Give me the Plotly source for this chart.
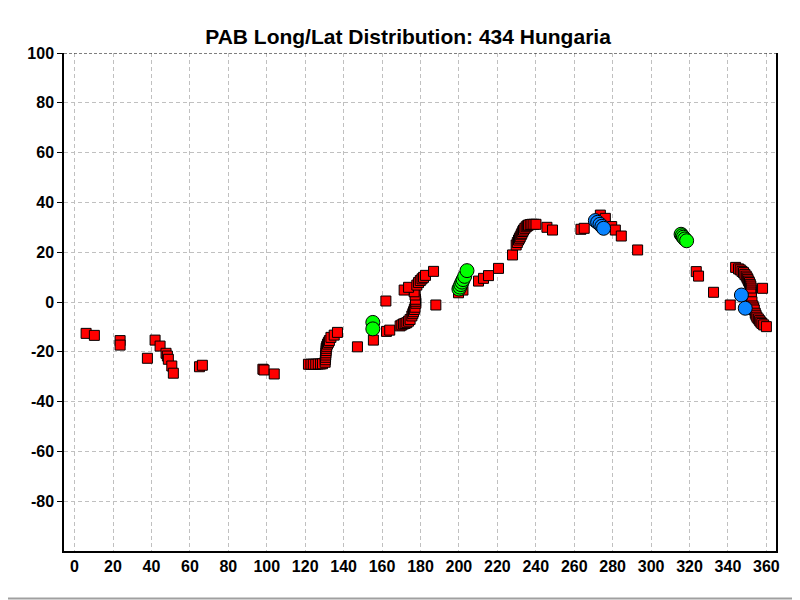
import plotly.graph_objects as go

# ── Datos (longitud, latitud) ──────────────────────────────────────────────

red_lon = [
    6.0, 10.3, 23.7, 23.7, 37.9, 41.9, 44.5, 47.6, 48.3, 48.8, 50.6, 51.4,
    65.0, 66.5, 98.0, 98.6, 103.9,
    121.7, 123.0, 124.2, 125.5, 126.8, 128.0, 129.0,
    130.4, 130.5, 130.6, 130.7, 130.8, 130.9, 130.9, 131.2, 131.6, 132.1,
    132.6, 133.4, 135.1, 136.8,
    147.2, 155.5, 162.0, 162.3, 164.0,
    169.4, 170.3, 171.2, 172.0, 172.9, 173.8, 174.6, 175.5, 176.0, 176.4,
    176.8, 177.2, 177.6, 177.5, 177.4, 177.2, 176.7,
    171.5, 173.8,
    178.1, 179.0, 179.9, 180.8, 181.6, 182.6, 186.8, 188.0,
    199.8, 202.1,
    210.2, 212.8, 215.4, 220.6, 227.9,
    229.8, 230.4, 231.0, 231.5, 231.9, 232.4, 232.8, 233.2, 233.6, 234.3,
    235.0, 235.6, 236.2, 237.1, 238.0, 239.0, 240.1, 245.8, 248.7,
    263.5, 265.2, 273.6, 276.2, 279.5, 281.4, 284.5, 293.0,
    323.5, 324.7, 332.5, 341.2, 344.0,
    345.5, 346.4, 347.3, 348.1, 348.8, 349.5, 350.0, 350.4, 350.8, 351.2,
    351.6, 351.9, 352.1, 352.1, 352.0, 351.9,
    352.2, 352.5, 353.0, 353.4, 353.7, 354.2, 354.6, 355.1, 355.8, 356.5,
    357.1, 357.7, 358.6, 360.0, 358.0,
]
red_lat = [
    -12.6, -13.4, -15.5, -17.3, -22.6, -15.3, -17.7, -20.6, -21.7, -23.0, -25.7, -28.6,
    -26.0, -25.4, -27.0, -27.3, -28.9,
    -25.0, -25.0, -25.0, -25.0, -24.9, -24.9, -24.8,
    -24.2, -23.2, -22.2, -21.3, -20.4, -19.5, -18.6, -17.8, -16.9, -16.2,
    -15.5, -14.2, -13.3, -12.2,
    -18.0, -15.3, 0.4, -11.8, -11.3,
    -9.6, -9.2, -8.8, -8.6, -8.3, -7.7, -7.0, -5.6, -4.7, -3.9,
    -3.0, -2.1, -0.5, 0.3, 1.1, 2.8, 4.1,
    4.8, 5.9,
    6.8, 7.8, 8.6, 9.3, 9.9, 10.7, 12.3, -1.2,
    3.7, 4.8,
    8.4, 9.5, 10.6, 13.5, 18.9,
    22.9, 23.9, 24.9, 25.6, 26.2, 27.0, 27.6, 28.3, 28.9, 29.6,
    30.2, 30.6, 30.9, 31.1, 31.2, 31.2, 31.2, 30.0, 28.9,
    29.2, 29.6, 34.9, 33.6, 30.3, 28.9, 26.5, 20.9,
    12.2, 10.4, 3.9, -1.2, 13.9,
    13.3, 12.9, 12.3, 11.8, 11.1, 10.4, 9.7, 9.1, 8.4, 7.8,
    7.1, 6.4, 5.6, 4.8, 4.0, 3.2,
    1.6, 0.1, -1.6, -2.4, -3.2, -4.5, -5.3, -6.1, -6.8, -7.5,
    -8.1, -8.6, -9.2, -9.9, 5.5,
]

green_lon = [155.2, 155.2, 200.0, 200.5, 201.0, 201.6, 202.2, 203.0, 204.2,
             315.6, 316.2, 316.8, 317.5, 318.5]
green_lat = [-8.2, -10.8, 5.2, 6.0, 7.0, 8.0, 9.0, 10.3, 12.6,
             27.2, 26.6, 26.0, 25.3, 24.6]

blue_lon = [271.0, 272.2, 273.4, 274.4, 275.3, 347.0, 349.0]
blue_lat = [32.7, 32.0, 31.2, 30.4, 29.6, 2.8, -2.5]

x_ticks = list(range(0, 361, 20))
y_ticks = list(range(-80, 101, 20))

FONT = "Liberation Sans, Arial, sans-serif"
GRID = "#c0c0c0"

fig = go.Figure()
fig.add_trace(go.Scatter(
    x=red_lon, y=red_lat, mode="markers",
    marker=dict(symbol="square", size=10, color="#ff0000",
                line=dict(color="black", width=1)),
))
fig.add_trace(go.Scatter(
    x=green_lon, y=green_lat, mode="markers",
    marker=dict(symbol="circle", size=14, color="#00ff00",
                line=dict(color="black", width=1)),
))
fig.add_trace(go.Scatter(
    x=blue_lon, y=blue_lat, mode="markers",
    marker=dict(symbol="circle", size=14, color="#0a84ff",
                line=dict(color="black", width=1)),
))

# línea superior punteada y marco gris de la ventana
fig.add_shape(type="line", xref="paper", yref="y", x0=0, x1=1, y0=100, y1=100,
              line=dict(color="black", width=1, dash="3px,2px"))
fig.add_shape(type="line", xref="paper", yref="paper",
              x0=1.028, x1=1.028, y0=-0.097, y1=1.11,
              line=dict(color="#a0a0a0", width=2))
fig.add_shape(type="line", xref="paper", yref="paper",
              x0=-0.1, x1=1.04, y0=-0.0955, y1=-0.0955,
              line=dict(color="#a0a0a0", width=2))

# la página añade 8 px de margen: los márgenes lo compensan
fig.update_layout(
    width=800, height=600,
    paper_bgcolor="white", plot_bgcolor="white",
    showlegend=False,
    margin=dict(l=56, r=32, t=45, b=57),
    title=dict(text="<b>PAB Long/Lat Distribution: 434 Hungaria</b>",
               x=0.5, xanchor="center", y=0.953, yanchor="middle",
               font=dict(family=FONT, size=21, color="black")),
    font=dict(family=FONT, color="black"),
    xaxis=dict(
        range=[-5.5, 365], tickvals=x_ticks,
        ticktext=[f"<b>{v}</b>" for v in x_ticks],
        tickfont=dict(size=16), showgrid=True, gridcolor=GRID,
        griddash="4px,3px", gridwidth=1, zeroline=False,
        showline=True, linecolor="black", linewidth=1.5, ticks="",
    ),
    yaxis=dict(
        range=[-100, 100], tickvals=y_ticks,
        ticktext=[f"<b>{v}</b>" for v in y_ticks],
        tickfont=dict(size=16), showgrid=True, gridcolor=GRID,
        griddash="4px,3px", gridwidth=1, zeroline=False,
        showline=True, mirror=True, linecolor="black", linewidth=1.5,
        ticks="outside", ticklen=5, tickcolor="black",
    ),
)

fig.write_html("out.html")
